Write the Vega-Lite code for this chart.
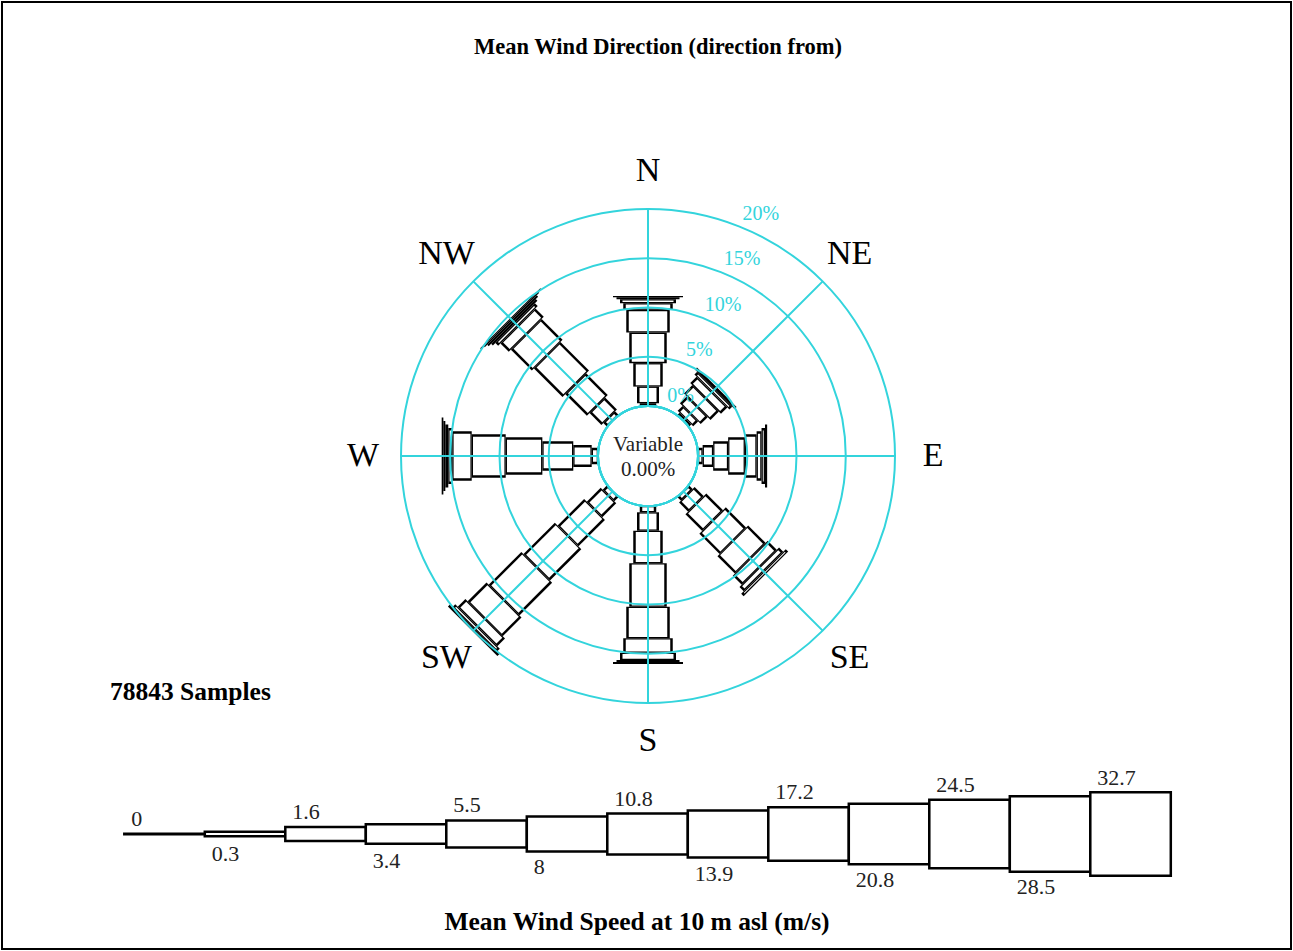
{
  "$schema": "https://vega.github.io/schema/vega-lite/v6.json",
  "width": 1289,
  "height": 947,
  "padding": 2,
  "autosize": "none",
  "background": "white",
  "config": {"view": {"stroke": "black", "strokeWidth": 2}, "font": "Liberation Serif"},
  "datasets": {
    "petals": [
      {"dir": "N", "angle": 0, "cls": 2, "pct": 0.28},
      {"dir": "N", "angle": 0, "cls": 3, "pct": 1.69},
      {"dir": "N", "angle": 0, "cls": 4, "pct": 2.38},
      {"dir": "N", "angle": 0, "cls": 5, "pct": 3.1},
      {"dir": "N", "angle": 0, "cls": 6, "pct": 2.31},
      {"dir": "N", "angle": 0, "cls": 7, "pct": 0.68},
      {"dir": "N", "angle": 0, "cls": 8, "pct": 0.41},
      {"dir": "N", "angle": 0, "cls": 9, "pct": 0.18},
      {"dir": "N", "angle": 0, "cls": 10, "pct": 0.15},
      {"dir": "NE", "angle": 45, "cls": 2, "pct": 0.3},
      {"dir": "NE", "angle": 45, "cls": 3, "pct": 0.7},
      {"dir": "NE", "angle": 45, "cls": 4, "pct": 1.0},
      {"dir": "NE", "angle": 45, "cls": 5, "pct": 1.2},
      {"dir": "NE", "angle": 45, "cls": 6, "pct": 0.9},
      {"dir": "NE", "angle": 45, "cls": 7, "pct": 0.4},
      {"dir": "NE", "angle": 45, "cls": 8, "pct": 0.3},
      {"dir": "E", "angle": 90, "cls": 2, "pct": 0.47},
      {"dir": "E", "angle": 90, "cls": 3, "pct": 1.07},
      {"dir": "E", "angle": 90, "cls": 4, "pct": 1.52},
      {"dir": "E", "angle": 90, "cls": 5, "pct": 1.7},
      {"dir": "E", "angle": 90, "cls": 6, "pct": 1.19},
      {"dir": "E", "angle": 90, "cls": 7, "pct": 0.5},
      {"dir": "E", "angle": 90, "cls": 8, "pct": 0.35},
      {"dir": "E", "angle": 90, "cls": 9, "pct": 0.22},
      {"dir": "SE", "angle": 135, "cls": 2, "pct": 0.5},
      {"dir": "SE", "angle": 135, "cls": 3, "pct": 1.3},
      {"dir": "SE", "angle": 135, "cls": 4, "pct": 2.4},
      {"dir": "SE", "angle": 135, "cls": 5, "pct": 2.9},
      {"dir": "SE", "angle": 135, "cls": 6, "pct": 2.5},
      {"dir": "SE", "angle": 135, "cls": 7, "pct": 1.3},
      {"dir": "SE", "angle": 135, "cls": 8, "pct": 0.6},
      {"dir": "SE", "angle": 135, "cls": 9, "pct": 0.35},
      {"dir": "S", "angle": 180, "cls": 2, "pct": 0.64},
      {"dir": "S", "angle": 180, "cls": 3, "pct": 1.87},
      {"dir": "S", "angle": 180, "cls": 4, "pct": 3.31},
      {"dir": "S", "angle": 180, "cls": 5, "pct": 4.4},
      {"dir": "S", "angle": 180, "cls": 6, "pct": 3.21},
      {"dir": "S", "angle": 180, "cls": 7, "pct": 1.46},
      {"dir": "S", "angle": 180, "cls": 8, "pct": 0.74},
      {"dir": "S", "angle": 180, "cls": 9, "pct": 0.22},
      {"dir": "S", "angle": 180, "cls": 10, "pct": 0.19},
      {"dir": "SW", "angle": 225, "cls": 2, "pct": 0.6},
      {"dir": "SW", "angle": 225, "cls": 3, "pct": 2.0},
      {"dir": "SW", "angle": 225, "cls": 4, "pct": 3.8},
      {"dir": "SW", "angle": 225, "cls": 5, "pct": 4.5},
      {"dir": "SW", "angle": 225, "cls": 6, "pct": 4.7},
      {"dir": "SW", "angle": 225, "cls": 7, "pct": 2.7},
      {"dir": "SW", "angle": 225, "cls": 8, "pct": 1.1},
      {"dir": "SW", "angle": 225, "cls": 9, "pct": 0.4},
      {"dir": "SW", "angle": 225, "cls": 10, "pct": 0.3},
      {"dir": "W", "angle": 270, "cls": 2, "pct": 0.64},
      {"dir": "W", "angle": 270, "cls": 3, "pct": 1.87},
      {"dir": "W", "angle": 270, "cls": 4, "pct": 3.14},
      {"dir": "W", "angle": 270, "cls": 5, "pct": 3.72},
      {"dir": "W", "angle": 270, "cls": 6, "pct": 3.45},
      {"dir": "W", "angle": 270, "cls": 7, "pct": 1.97},
      {"dir": "W", "angle": 270, "cls": 8, "pct": 0.41},
      {"dir": "W", "angle": 270, "cls": 9, "pct": 0.3},
      {"dir": "W", "angle": 270, "cls": 10, "pct": 0.2},
      {"dir": "W", "angle": 270, "cls": 11, "pct": 0.17},
      {"dir": "NW", "angle": 315, "cls": 2, "pct": 0.5},
      {"dir": "NW", "angle": 315, "cls": 3, "pct": 1.7},
      {"dir": "NW", "angle": 315, "cls": 4, "pct": 3.1},
      {"dir": "NW", "angle": 315, "cls": 5, "pct": 4.1},
      {"dir": "NW", "angle": 315, "cls": 6, "pct": 3.0},
      {"dir": "NW", "angle": 315, "cls": 7, "pct": 1.2},
      {"dir": "NW", "angle": 315, "cls": 8, "pct": 0.4},
      {"dir": "NW", "angle": 315, "cls": 9, "pct": 0.25},
      {"dir": "NW", "angle": 315, "cls": 10, "pct": 0.2},
      {"dir": "NW", "angle": 315, "cls": 11, "pct": 0.15},
      {"dir": "NW", "angle": 315, "cls": 12, "pct": 0.1}
    ],
    "dirs": [
      {"dir": "N", "angle": 0}, {"dir": "NE", "angle": 45}, {"dir": "E", "angle": 90}, {"dir": "SE", "angle": 135},
      {"dir": "S", "angle": 180}, {"dir": "SW", "angle": 225}, {"dir": "W", "angle": 270}, {"dir": "NW", "angle": 315}
    ],
    "rings": [
      {"pct": 0, "label": "0%"}, {"pct": 5, "label": "5%"}, {"pct": 10, "label": "10%"}, {"pct": 15, "label": "15%"}, {"pct": 20, "label": "20%"}
    ],
    "legend": [
      {"cls": 0, "lo": "0"}, {"cls": 1, "lo": "0.3"}, {"cls": 2, "lo": "1.6"}, {"cls": 3, "lo": "3.4"},
      {"cls": 4, "lo": "5.5"}, {"cls": 5, "lo": "8"}, {"cls": 6, "lo": "10.8"}, {"cls": 7, "lo": "13.9"},
      {"cls": 8, "lo": "17.2"}, {"cls": 9, "lo": "20.8"}, {"cls": 10, "lo": "24.5"}, {"cls": 11, "lo": "28.5"},
      {"cls": 12, "lo": "32.7"}
    ]
  },
  "resolve": {"scale": {"x": "independent", "y": "independent"}},
  "layer": [
    {
      "resolve": {"scale": {"strokeWidth": "independent"}},
      "layer": [
        {
          "data": {"name": "petals"},
          "transform": [
            {"stack": "pct", "groupby": ["dir"], "sort": [{"field": "cls", "order": "ascending"}], "as": ["p0", "p1"]},
            {"calculate": "(datum.p0 + 5.076) * sin(datum.angle * PI / 180)", "as": "xa"},
            {"calculate": "(datum.p0 + 5.076) * cos(datum.angle * PI / 180)", "as": "ya"},
            {"calculate": "(datum.p1 + 5.076) * sin(datum.angle * PI / 180)", "as": "xb"},
            {"calculate": "(datum.p1 + 5.076) * cos(datum.angle * PI / 180)", "as": "yb"}
          ],
          "mark": {"type": "rule", "color": "black", "strokeCap": "butt"},
          "encoding": {
            "x": {"field": "xa", "type": "quantitative", "scale": {"domain": [-65.584, 65.279], "nice": false, "zero": false}, "axis": null},
            "y": {"field": "ya", "type": "quantitative", "scale": {"domain": [-50.051, 46.091], "nice": false, "zero": false}, "axis": null},
            "x2": {"field": "xb"},
            "y2": {"field": "yb"},
            "strokeWidth": {"field": "cls", "type": "quantitative", "legend": null,
              "scale": {"type": "threshold", "domain": [0.5, 1.5, 2.5, 3.5, 4.5, 5.5, 6.5, 7.5, 8.5, 9.5, 10.5, 11.5],
                        "range": [3, 7, 16.5, 22, 29.5, 37.5, 43.5, 49.5, 56, 63, 70, 77, 85]}}
          }
        },
        {
          "data": {"name": "petals"},
          "transform": [
            {"stack": "pct", "groupby": ["dir"], "sort": [{"field": "cls", "order": "ascending"}], "as": ["p0", "p1"]},
            {"filter": "datum.pct > 0.32"},
            {"calculate": "(datum.p0 + 5.076 + 0.13) * sin(datum.angle * PI / 180)", "as": "xa"},
            {"calculate": "(datum.p0 + 5.076 + 0.13) * cos(datum.angle * PI / 180)", "as": "ya"},
            {"calculate": "(datum.p1 + 5.076 - 0.13) * sin(datum.angle * PI / 180)", "as": "xb"},
            {"calculate": "(datum.p1 + 5.076 - 0.13) * cos(datum.angle * PI / 180)", "as": "yb"}
          ],
          "mark": {"type": "rule", "color": "white", "strokeCap": "butt"},
          "encoding": {
            "x": {"field": "xa", "type": "quantitative", "axis": null},
            "y": {"field": "ya", "type": "quantitative", "axis": null},
            "x2": {"field": "xb"},
            "y2": {"field": "yb"},
            "strokeWidth": {"field": "cls", "type": "quantitative", "legend": null,
              "scale": {"type": "threshold", "domain": [0.5, 1.5, 2.5, 3.5, 4.5, 5.5, 6.5, 7.5, 8.5, 9.5, 10.5, 11.5],
                        "range": [0, 2, 11.5, 17, 24.5, 32.5, 38.5, 44.5, 51, 58, 65, 72, 80]}}
          }
        },
        {
          "data": {"name": "rings"},
          "mark": {"type": "arc", "theta": 0, "theta2": 6.2832, "filled": false, "color": "#33d4dc", "strokeWidth": 2},
          "encoding": {
            "x": {"datum": 0, "type": "quantitative", "axis": null},
            "y": {"datum": 0, "type": "quantitative", "axis": null},
            "radius": {"field": "pct", "type": "quantitative", "stack": null, "scale": {"type": "linear", "domain": [0, 20], "range": [50, 247], "zero": false}}
          }
        },
        {
          "data": {"name": "dirs"},
          "mark": {"type": "arc", "filled": false, "color": "#33d4dc", "strokeWidth": 2},
          "encoding": {
            "x": {"datum": 0, "type": "quantitative", "axis": null},
            "y": {"datum": 0, "type": "quantitative", "axis": null},
            "theta": {"field": "angle", "type": "quantitative", "stack": null, "scale": {"type": "linear", "domain": [0, 360], "range": [0, 6.28319], "zero": false}},
            "theta2": {"field": "angle"},
            "radius": {"datum": 0, "type": "quantitative", "stack": null},
            "radius2": {"datum": 20}
          }
        },
        {
          "data": {"name": "rings"},
          "mark": {"type": "text", "align": "left", "baseline": "bottom", "dy": -4, "font": "Liberation Serif", "fontSize": 20, "color": "#33d4dc"},
          "encoding": {
            "x": {"datum": 0, "type": "quantitative", "axis": null},
            "y": {"datum": 0, "type": "quantitative", "axis": null},
            "theta": {"datum": 22.5, "type": "quantitative", "stack": null},
            "radius": {"field": "pct", "type": "quantitative", "stack": null},
            "text": {"field": "label"}
          }
        },
        {
          "data": {"name": "dirs"},
          "mark": {"type": "text", "align": "center", "baseline": "middle", "font": "Liberation Serif", "fontSize": 34, "color": "black"},
          "encoding": {
            "x": {"datum": 0, "type": "quantitative", "axis": null},
            "y": {"datum": 0, "type": "quantitative", "axis": null},
            "theta": {"field": "angle", "type": "quantitative", "stack": null},
            "radius": {"datum": 23.86, "type": "quantitative", "stack": null},
            "text": {"field": "dir"}
          }
        },
        {
          "data": {"values": [{"label": "Variable"}]},
          "mark": {"type": "text", "align": "center", "baseline": "middle", "dy": -11, "font": "Liberation Serif", "fontSize": 21, "color": "#222222"},
          "encoding": {
            "x": {"datum": 0, "type": "quantitative", "axis": null},
            "y": {"datum": 0, "type": "quantitative", "axis": null},
            "text": {"field": "label"}
          }
        },
        {
          "data": {"values": [{"label": "0.00%"}]},
          "mark": {"type": "text", "align": "center", "baseline": "middle", "dy": 14, "font": "Liberation Serif", "fontSize": 21, "color": "#222222"},
          "encoding": {
            "x": {"datum": 0, "type": "quantitative", "axis": null},
            "y": {"datum": 0, "type": "quantitative", "axis": null},
            "text": {"field": "label"}
          }
        },
        {
          "data": {"values": [{"label": "Mean Wind Direction (direction from)"}]},
          "mark": {"type": "text", "align": "center", "baseline": "middle", "font": "Liberation Serif", "fontSize": 22.5, "fontWeight": "bold", "color": "black"},
          "encoding": {
            "x": {"datum": 1.015, "type": "quantitative", "axis": null},
            "y": {"datum": 41.52, "type": "quantitative", "axis": null},
            "text": {"field": "label"}
          }
        },
        {
          "data": {"values": [{"label": "78843 Samples"}]},
          "mark": {"type": "text", "align": "left", "baseline": "middle", "font": "Liberation Serif", "fontSize": 25.5, "fontWeight": "bold", "color": "black"},
          "encoding": {
            "x": {"datum": -54.62, "type": "quantitative", "axis": null},
            "y": {"datum": -23.96, "type": "quantitative", "axis": null},
            "text": {"field": "label"}
          }
        },
        {
          "data": {"values": [{"label": "Mean Wind Speed at 10 m asl (m/s)"}]},
          "mark": {"type": "text", "align": "center", "baseline": "middle", "font": "Liberation Serif", "fontSize": 25.5, "fontWeight": "bold", "color": "black"},
          "encoding": {
            "x": {"datum": -1.117, "type": "quantitative", "axis": null},
            "y": {"datum": -47.31, "type": "quantitative", "axis": null},
            "text": {"field": "label"}
          }
        }
      ]
    },
    {
      "data": {"name": "legend"},
      "mark": {"type": "tick", "orient": "vertical", "thickness": 80.5, "fill": "white", "stroke": "black", "strokeWidth": 2.5, "opacity": 1},
      "encoding": {
        "x": {"field": "cls", "type": "ordinal", "axis": null,
              "scale": {"type": "band", "domain": [0, 1, 2, 3, 4, 5, 6, 7, 8, 9, 10, 11, 12], "range": [122.3, 1168.8], "paddingInner": 0, "paddingOuter": 0}},
        "y": {"datum": -38.376, "type": "quantitative", "axis": null, "scale": {"domain": [-50.051, 46.091], "nice": false, "zero": false}},
        "size": {"field": "cls", "type": "quantitative", "legend": null,
                 "scale": {"type": "threshold", "domain": [0.5, 1.5, 2.5, 3.5, 4.5, 5.5, 6.5, 7.5, 8.5, 9.5, 10.5, 11.5],
                           "range": [0.5, 4.5, 14, 19.5, 27, 35, 41, 47, 53.5, 60.5, 68.5, 75.5, 83.5]}}
      }
    },
    {
      "data": {"name": "legend"},
      "transform": [{"filter": "datum.cls % 2 == 0"}],
      "mark": {"type": "text", "align": "left", "baseline": "alphabetic", "dx": 7, "font": "Liberation Serif", "fontSize": 22, "color": "#222222"},
      "encoding": {
        "x": {"field": "cls", "type": "ordinal", "bandPosition": 0, "axis": null,
              "scale": {"type": "band", "domain": [0, 1, 2, 3, 4, 5, 6, 7, 8, 9, 10, 11, 12], "range": [122.3, 1168.8], "paddingInner": 0, "paddingOuter": 0}},
        "y": {"field": "cls", "type": "quantitative", "axis": null, "scale": {"domain": [0, 12], "range": [824, 783], "nice": false, "zero": false}},
        "text": {"field": "lo"}
      }
    },
    {
      "data": {"name": "legend"},
      "transform": [{"filter": "datum.cls % 2 == 1"}],
      "mark": {"type": "text", "align": "left", "baseline": "alphabetic", "dx": 7, "font": "Liberation Serif", "fontSize": 22, "color": "#222222"},
      "encoding": {
        "x": {"field": "cls", "type": "ordinal", "bandPosition": 0, "axis": null,
              "scale": {"type": "band", "domain": [0, 1, 2, 3, 4, 5, 6, 7, 8, 9, 10, 11, 12], "range": [122.3, 1168.8], "paddingInner": 0, "paddingOuter": 0}},
        "y": {"field": "cls", "type": "quantitative", "axis": null, "scale": {"domain": [1, 11], "range": [859, 892], "nice": false, "zero": false}},
        "text": {"field": "lo"}
      }
    }
  ]
}
